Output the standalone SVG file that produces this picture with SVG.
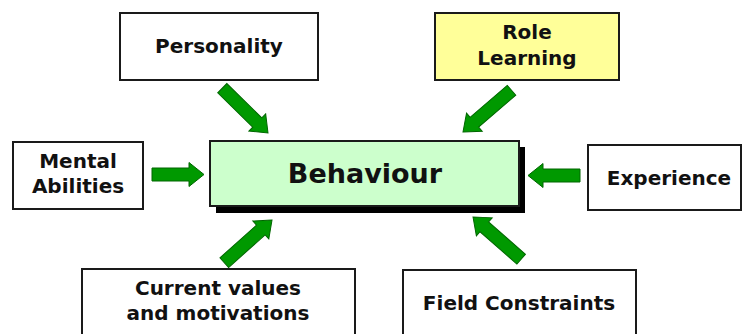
<svg xmlns="http://www.w3.org/2000/svg" xmlns:xlink="http://www.w3.org/1999/xlink" width="744" height="334" viewBox="0 0 744 334">
<style>
.box{fill:#ffffff;stroke:#1a1a1a;stroke-width:2}
.lbl{font-family:"DejaVu Sans",Verdana,sans-serif;font-weight:bold;font-size:20px;fill:#111;text-anchor:middle}
.big{font-size:27px}
.arr{fill:#009900;stroke:#006600;stroke-width:1;stroke-linejoin:miter}
</style>
<defs>
<path id="arrowD" d="M0,0 L-15,-12 L-15,-6.5 L-64,-6.5 L-64,6.5 L-15,6.5 L-15,12 Z"/>
<path id="arrowH" d="M0,0 L-15,-12 L-15,-6.5 L-52,-6.5 L-52,6.5 L-15,6.5 L-15,12 Z"/>
</defs>
<rect width="744" height="334" fill="#ffffff"/>
<g id="connectors">
<use xlink:href="#arrowD" class="arr" transform="translate(268,133) rotate(44.4)"/>
<use xlink:href="#arrowD" class="arr" transform="translate(463,132) rotate(139.3)"/>
<use xlink:href="#arrowH" class="arr" transform="translate(204,174.5)"/>
<use xlink:href="#arrowH" class="arr" transform="translate(528,175.5) rotate(180)"/>
<use xlink:href="#arrowD" class="arr" transform="translate(272,220) rotate(-41.8)"/>
<use xlink:href="#arrowD" class="arr" transform="translate(473,217) rotate(-138.8)"/>
</g>
<g id="personality">
<rect class="box" x="120" y="13" width="198" height="67"/>
<text class="lbl" x="219" y="53">Personality</text>
</g>
<g id="role-learning">
<rect class="box" x="435" y="13" width="184" height="67" style="fill:#ffff99"/>
<text class="lbl" x="527" y="39">Role</text>
<text class="lbl" x="527" y="65">Learning</text>
</g>
<g id="mental-abilities">
<rect class="box" x="13" y="142" width="130" height="67"/>
<text class="lbl" x="78" y="168">Mental</text>
<text class="lbl" x="78" y="193">Abilities</text>
</g>
<g id="behaviour">
<rect x="216" y="147" width="309" height="66" fill="#000000"/>
<rect x="210" y="141" width="309" height="65" fill="#ccffcc" stroke="#1a1a1a" stroke-width="2"/>
<text class="lbl big" x="365" y="183">Behaviour</text>
</g>
<g id="experience">
<rect class="box" x="588" y="145" width="153" height="65"/>
<text class="lbl" x="669" y="185">Experience</text>
</g>
<g id="current-values">
<rect class="box" x="82" y="269" width="273" height="75"/>
<text class="lbl" x="218" y="295">Current values</text>
<text class="lbl" x="218" y="320">and motivations</text>
</g>
<g id="field-constraints">
<rect class="box" x="403" y="270" width="233" height="74"/>
<text class="lbl" x="519" y="310">Field Constraints</text>
</g>
</svg>
